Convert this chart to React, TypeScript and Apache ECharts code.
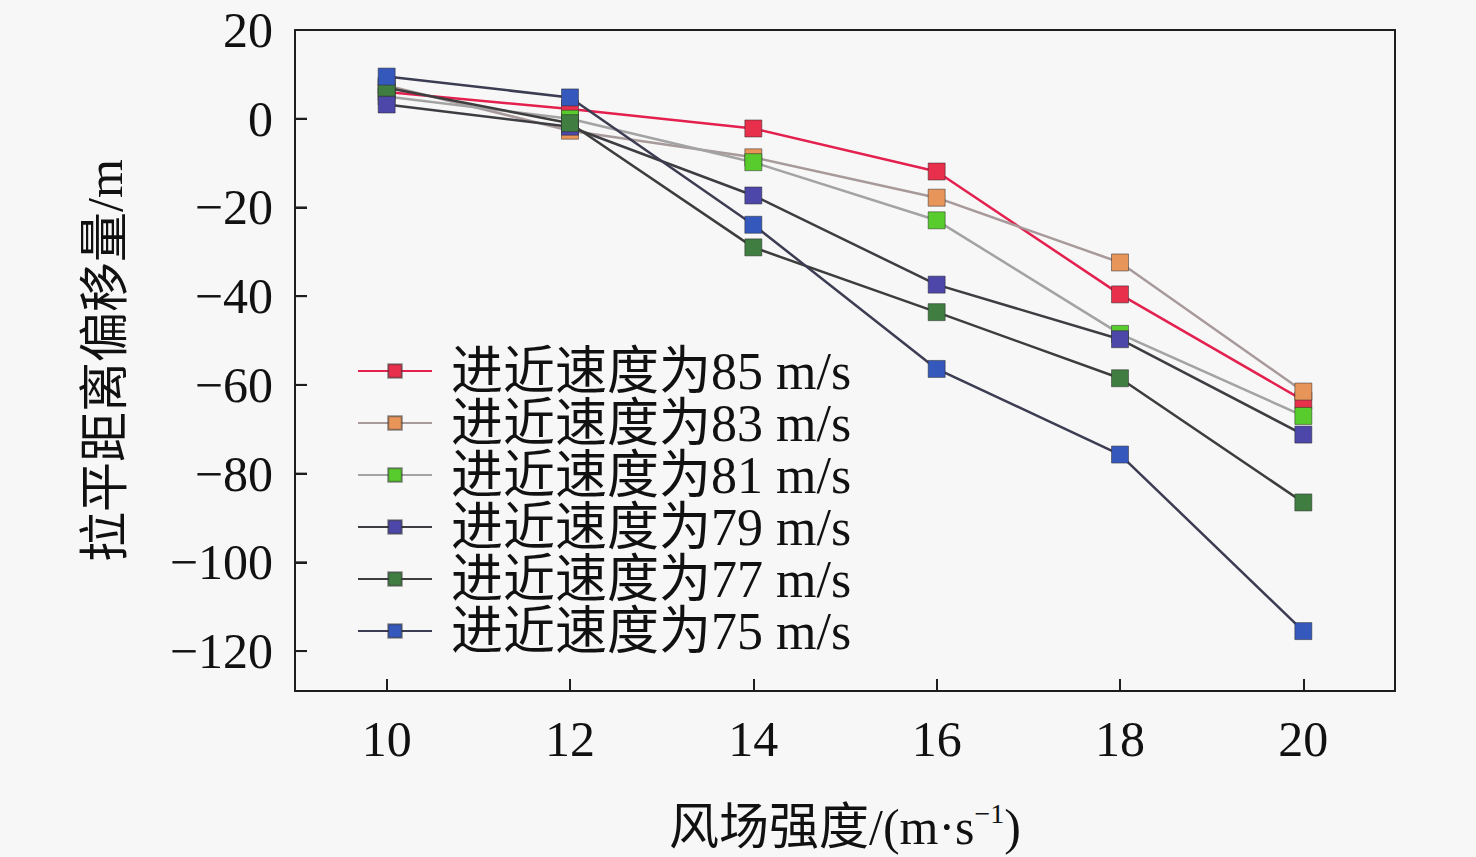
import React, { useEffect, useRef } from "react";
import * as echarts from "echarts";

const categories = ["10", "12", "14", "16", "18", "20"];
const seriesNames = [
  "进近速度为85 m/s",
  "进近速度为83 m/s",
  "进近速度为81 m/s",
  "进近速度为79 m/s",
  "进近速度为77 m/s",
  "进近速度为75 m/s",
];
const yTicks = [-120, -100, -80, -60, -40, -20, 0, 20];
const v85 = [6.0, 2.2, -2.2, -11.9, -39.6, -63.5];
const v83 = [7.5, -2.7, -8.7, -17.8, -32.4, -61.5];
const v81 = [5.0, 0.0, -9.8, -22.9, -48.5, -67.0];
const v79 = [3.2, -1.8, -17.3, -37.4, -49.7, -71.2];
const v77 = [7.0, -1.0, -29.0, -43.6, -58.5, -86.5];
const v75 = [9.5, 4.8, -23.9, -56.4, -75.7, -115.5];

const markerColors = ["#e8304c", "#e8955a", "#58cc2c", "#4c47a8", "#3f7d40", "#3558bc"];
const lineColors = ["#e3204e", "#a89a9a", "#a3a3a3", "#3d3d42", "#3d3d3d", "#3c3c52"];
const values = [v85, v83, v81, v79, v77, v75];

const FONT = '"Liberation Serif", "Noto Sans CJK SC", serif';
const AX = "#1e1e1e";

const fmt = (v: number) => (v < 0 ? "\u2212" + Math.abs(v) : String(v));

export default function App() {
  const ref = useRef<HTMLDivElement>(null);
  useEffect(() => {
    if (!ref.current) return;
    const chart = echarts.init(ref.current, undefined, { renderer: "svg" });
    chart.setOption({
      animation: false,
      backgroundColor: "#f7f7f7",
      grid: { left: 295, right: 81, top: 30, bottom: 165 },
      legend: {
        left: 352,
        top: 340,
        orient: "vertical",
        itemWidth: 74,
        itemHeight: 17,
        itemGap: 0,
        textStyle: { fontFamily: FONT, fontSize: 52, lineHeight: 52, color: "#111", padding: [0, 0, 0, 14] },
        data: seriesNames,
      },
      xAxis: [
        {
          type: "category",
          data: categories,
          boundaryGap: true,
          position: "bottom",
          axisLine: { show: true, onZero: false, lineStyle: { color: AX, width: 2 } },
          axisTick: { show: true, inside: true, alignWithLabel: true, length: 12, lineStyle: { color: AX, width: 2 } },
          axisLabel: { fontFamily: FONT, fontSize: 50, color: "#111", margin: 23 },
          splitLine: { show: false },
          name: "{a|风场强度/(m·s}{s|\u22121}{a|)}",
          nameLocation: "middle",
          nameGap: 108,
          nameTextStyle: {
            rich: {
              a: { fontFamily: FONT, fontSize: 50, color: "#111", lineHeight: 56 },
              s: { fontFamily: FONT, fontSize: 28, color: "#111", verticalAlign: "top", lineHeight: 56, padding: [0, 0, 22, 0] },
            },
          },
        },
        {
          type: "category",
          data: categories,
          position: "top",
          axisLine: { show: true, onZero: false, lineStyle: { color: AX, width: 2 } },
          axisTick: { show: false },
          axisLabel: { show: false },
          splitLine: { show: false },
        },
      ],
      yAxis: [
        {
          type: "value",
          min: -129,
          max: 20,
          splitNumber: 7,
          position: "left",
          axisLine: { show: true, onZero: false, lineStyle: { color: AX, width: 2 } },
          axisTick: { show: true, inside: true, length: 12, lineStyle: { color: AX, width: 2 } },
          axisLabel: { fontFamily: FONT, fontSize: 50, color: "#111", margin: 22, showMinLabel: false, formatter: fmt },
          splitLine: { show: false },
          name: "拉平距离偏移量/m",
          nameLocation: "middle",
          nameGap: 165,
          nameRotate: 90,
          nameTextStyle: { fontFamily: FONT, fontSize: 50, color: "#111" },
        },
        {
          type: "value",
          min: -129,
          max: 20,
          position: "right",
          axisLine: { show: true, onZero: false, lineStyle: { color: AX, width: 2 } },
          axisTick: { show: false },
          axisLabel: { show: false },
          splitLine: { show: false },
        },
      ],
      series: values.map((d, i) => ({
        name: seriesNames[i],
        type: "line",
        data: d,
        symbol: "rect",
        symbolSize: 17,
        lineStyle: { color: lineColors[i], width: 2.5 },
        itemStyle: { color: markerColors[i], borderColor: "rgba(40,40,40,0.5)", borderWidth: 1 },
      })),
    });
    const x0 = Number(chart.convertToPixel({ xAxisIndex: 0 }, categories[0]));
    const x1 = Number(chart.convertToPixel({ xAxisIndex: 0 }, categories[1]));
    const leftX = x0 - (x1 - x0) / 2;
    chart.setOption({
      graphic: yTicks.map((t) => {
        const y = Number(chart.convertToPixel({ yAxisIndex: 0 }, t));
        return {
          type: "line",
          silent: true,
          z: 50,
          shape: { x1: leftX, y1: y, x2: leftX + 12, y2: y },
          style: { stroke: AX, lineWidth: 2 },
        };
      }),
    });
    return () => chart.dispose();
  }, []);
  return <div ref={ref} style={{ position: "fixed", left: 0, top: 0, width: 1476, height: 857 }} />;
}
